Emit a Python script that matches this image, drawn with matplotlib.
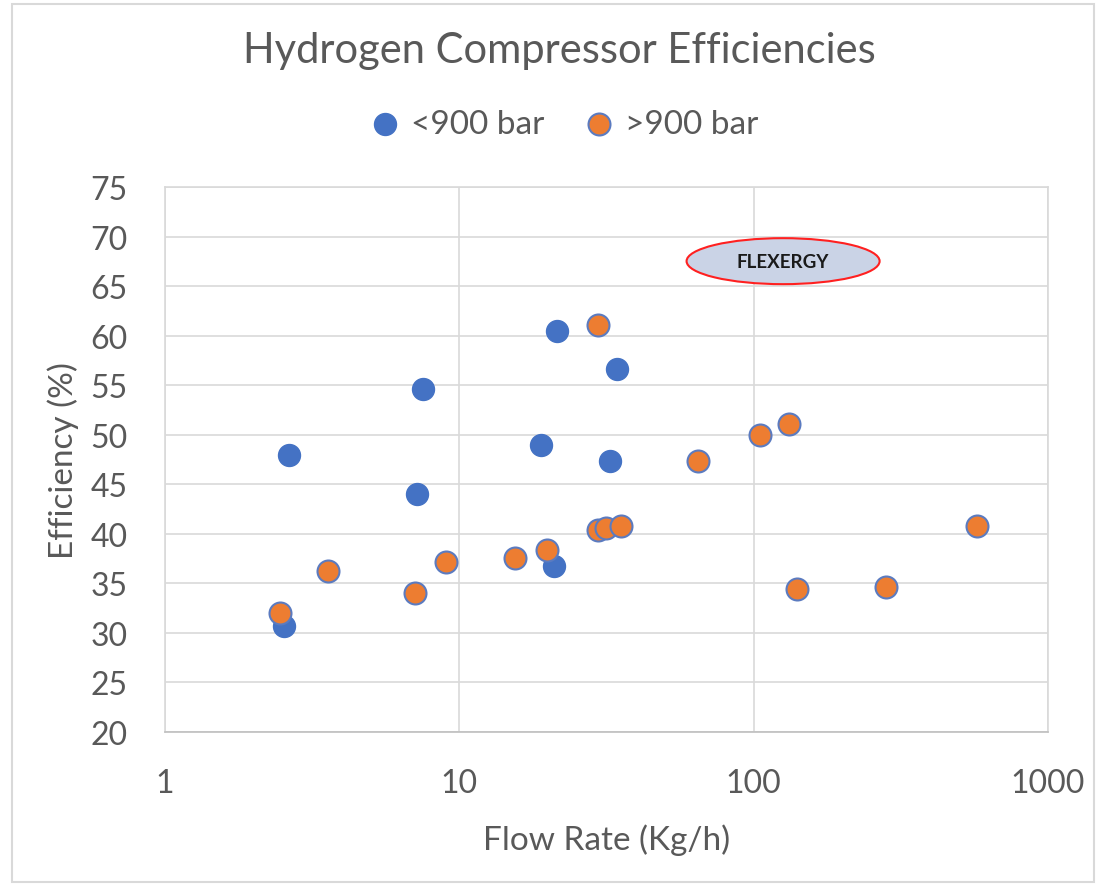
import matplotlib.pyplot as plt
from matplotlib.patches import Ellipse, Rectangle

# <900 bar compressors
low_flow = [2.64, 2.54, 7.54, 7.2, 18.9, 21.5, 20.9, 34.2, 32.6]
low_eff = [48.0, 30.7, 54.6, 44.0, 49.0, 60.5, 36.8, 56.6, 47.4]

# >900 bar compressors
high_flow = [2.46, 3.58, 7.08, 9.03, 15.4, 19.9, 29.5, 29.5, 31.4, 35.3,
             64.5, 105, 131.5, 140, 281, 574]
high_eff = [32.0, 36.2, 34.0, 37.2, 37.6, 38.4, 61.1, 40.4, 40.6, 40.8,
            47.4, 50.0, 51.1, 34.4, 34.6, 40.8]

yticks = [20, 25, 30, 35, 40, 45, 50, 55, 60, 65, 70, 75]
xticks = [1, 10, 100, 1000]

txt = '#595959'
grid = '#D9D9D9'
plt.rcParams['font.family'] = ['Lato', 'DejaVu Sans']

fig = plt.figure(figsize=(11.02, 8.87), dpi=100)
ax = fig.add_axes([0.1497, 0.1736, 0.8013, 0.6144])

ax.scatter(low_flow, low_eff, s=250, color='#4472C4', edgecolor='#4472C4',
           linewidth=1, label='<900 bar', zorder=3)
ax.scatter(high_flow, high_eff, s=250, color='#ED7D31', edgecolor='#5B7BC0',
           linewidth=1.5, label='>900 bar', zorder=3)

ax.set_xscale('log')
ax.set_xlim(1, 1000)
ax.set_ylim(20, 75)
ax.set_xticks(xticks)
ax.set_xticklabels([str(v) for v in xticks])
ax.minorticks_off()
ax.set_yticks(yticks)
ax.tick_params(length=0, labelsize=23, labelcolor=txt)
ax.tick_params(axis='y', pad=27)
ax.tick_params(axis='x', pad=26)
ax.grid(True, color=grid, linewidth=1.2)
ax.set_axisbelow(True)
for sp in ax.spines.values():
    sp.set_color(grid)
    sp.set_linewidth(1.2)
ax.spines['bottom'].set_color('#BFBFBF')

ax.set_xlabel('Flow Rate (Kg/h)', fontsize=24, color=txt, labelpad=18)
ax.set_ylabel('Efficiency (%)', fontsize=24, color=txt, labelpad=8)

# FLEXERGY label
ell = Ellipse((0.700, 0.864), 0.2186, 0.0844, transform=ax.transAxes,
              facecolor='#CAD3E6', edgecolor='#FF2020', linewidth=1.5, zorder=4)
ax.add_patch(ell)
ax.text(0.700, 0.864, 'FLEXERGY', transform=ax.transAxes, ha='center',
        va='center', fontsize=13.5, fontweight='bold', color='#1A1A1A', zorder=5)

fig.text(0.508, 0.942, 'Hydrogen Compressor Efficiencies', ha='center',
         va='center', fontsize=30, color=txt)
fig.legend(loc='center', bbox_to_anchor=(0.511, 0.859), ncol=2, frameon=False,
           fontsize=24, labelcolor=txt, handlelength=1.0, handletextpad=0.27,
           columnspacing=1.15, markerscale=1.0)

fig.patches.append(Rectangle((0.011, 0.005), 0.982, 0.989, transform=fig.transFigure,
                             fill=False, edgecolor='#D9D9D9', linewidth=1.5))

fig.savefig('out.png', dpi=100)
